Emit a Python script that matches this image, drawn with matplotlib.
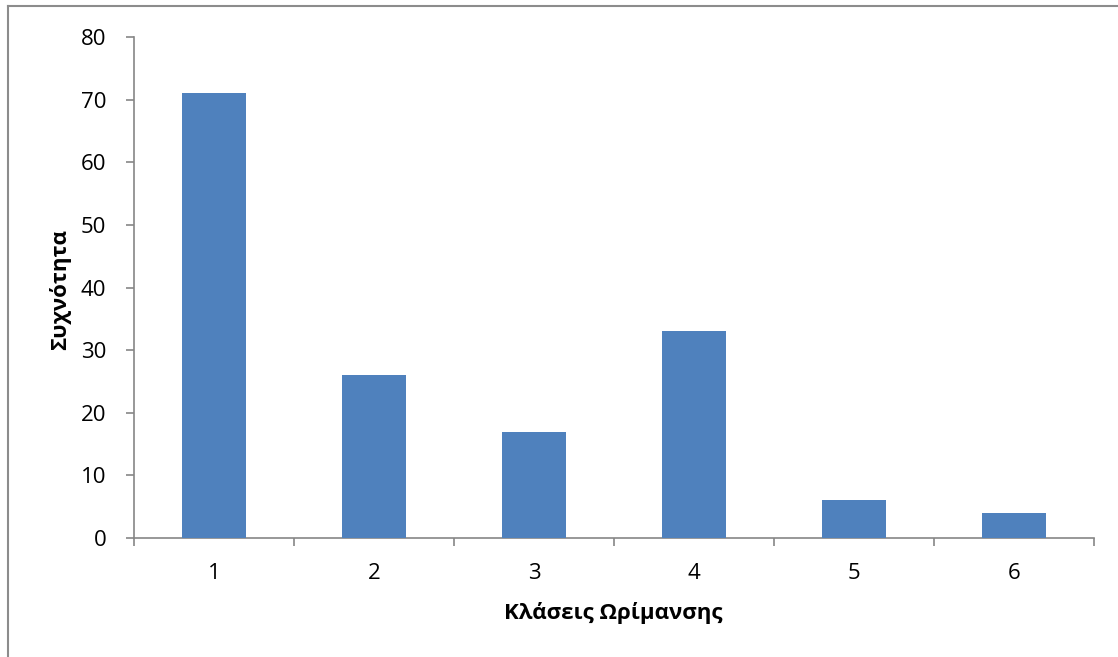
import matplotlib
matplotlib.use("Agg")
import matplotlib.pyplot as plt
from matplotlib.lines import Line2D

categories = ["1", "2", "3", "4", "5", "6"]
values = [71, 26, 17, 33, 6, 4]
yticks = [0, 10, 20, 30, 40, 50, 60, 70, 80]
xlabel = "Κλάσεις Ωρίμανσης"
ylabel = "Συχνότητα"

plt.rcParams['font.family'] = ['Open Sans', 'DejaVu Sans']

W, H = 1118, 657
fig = plt.figure(figsize=(W / 100, H / 100), dpi=100)
ax = fig.add_axes([134 / W, (H - 538) / H, (1094 - 134) / W, (538 - 37) / H])

x = list(range(len(categories)))
ax.bar(x, values, width=0.4, color="#4F81BD", zorder=3)

ax.set_xlim(-0.5, len(categories) - 0.5)
ax.set_ylim(0, 80)
ax.set_yticks(yticks)
ax.set_yticklabels([str(t) for t in yticks], fontsize=16)

ax.set_xticks([i - 0.5 for i in range(len(categories) + 1)])
ax.set_xticklabels([])
ax.set_xticks(x, minor=True)
ax.set_xticklabels(categories, minor=True, fontsize=16)
ax.tick_params(axis='x', which='minor', length=0, pad=18)
ax.tick_params(axis='x', which='major', length=6, width=1.2, color="#868686", direction='out')
ax.tick_params(axis='y', length=6, width=1.2, color="#868686", direction='out', pad=14)

for s in ["top", "right"]:
    ax.spines[s].set_visible(False)
for s in ["left", "bottom"]:
    ax.spines[s].set_color("#868686")
    ax.spines[s].set_linewidth(1.2)

fig.text(613 / W, 1 - 613 / H, xlabel, fontsize=16, fontweight='bold', ha='center', va='center')
fig.text(60 / W, 1 - 290 / H, ylabel, fontsize=16, fontweight='bold', ha='center', va='center', rotation=90)

# outer chart border (left and top visible)
fig.add_artist(Line2D([8 / W, 8 / W], [0, (H - 6) / H], color="#8C8C8C", lw=1.5, transform=fig.transFigure))
fig.add_artist(Line2D([8 / W, 1], [(H - 6) / H, (H - 6) / H], color="#8C8C8C", lw=1.5, transform=fig.transFigure))

fig.savefig("out.png", dpi=100, facecolor="white")
